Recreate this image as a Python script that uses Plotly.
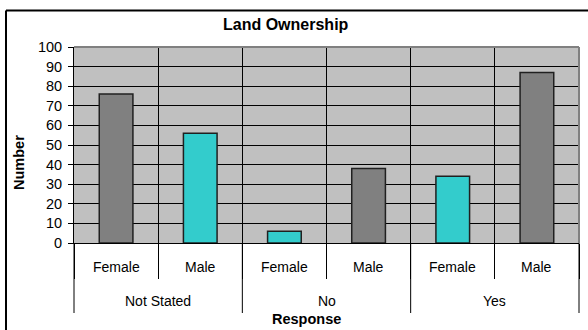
import plotly.graph_objects as go

# Land ownership responses, split by sex
groups = ["Not Stated", "No", "Yes"]
sexes = ["Female", "Male"]
counts = [76, 56, 6, 38, 34, 87]          # in group order, Female then Male
y_ticks = list(range(0, 101, 10))

bar_colors = ["#808080", "#33CCCC", "#33CCCC", "#808080", "#33CCCC", "#808080"]

keys = [f"{g} {s}" for g in groups for s in sexes]
sex_labels = [s for g in groups for s in sexes]

W, H = 588, 330
L, R, T, B = 74, 9, 47, 87
PW, PH = W - L - R, H - T - B


def px_x(px):
    return (px - L) / PW


def px_y(py):
    return (H - B - py) / PH


FONT = "Liberation Sans, Arial, sans-serif"

fig = go.Figure(
    go.Bar(
        x=keys,
        y=counts,
        marker=dict(color=bar_colors, line=dict(color="#202020", width=1.5)),
        width=0.4,
        hoverinfo="y",
    )
)

shapes = []
# group dividers below the category axis
n = len(keys)
for k in range(0, n + 1, len(sexes)):
    shapes.append(dict(type="line", xref="paper", yref="paper", layer="above",
                       x0=k / n, x1=k / n, y0=0, y1=px_y(313),
                       line=dict(color="black", width=1)))
# plot-area frame (top and right edges)
shapes.append(dict(type="line", xref="paper", yref="paper", x0=0, x1=1, y0=1, y1=1,
                   line=dict(color="#808080", width=2)))
shapes.append(dict(type="line", xref="paper", yref="paper", x0=1, x1=1, y0=0, y1=1,
                   line=dict(color="#808080", width=2)))
# chart-area border
shapes.append(dict(type="line", xref="paper", yref="paper",
                   x0=px_x(6), x1=px_x(600), y0=px_y(10.5), y1=px_y(10.5),
                   line=dict(color="black", width=2)))
shapes.append(dict(type="line", xref="paper", yref="paper",
                   x0=px_x(6), x1=px_x(6), y0=px_y(10.5), y1=px_y(340),
                   line=dict(color="black", width=2)))

annotations = []
for key, lab in zip(keys, sex_labels):
    annotations.append(dict(x=key, xref="x", y=px_y(267), yref="paper",
                            text=lab, showarrow=False,
                            xanchor="center", yanchor="middle",
                            font=dict(family=FONT, size=14, color="black")))
for gi, g in enumerate(groups):
    annotations.append(dict(x=(2 * gi + 1) / n, xref="paper", y=px_y(301), yref="paper",
                            text=g, showarrow=False,
                            xanchor="center", yanchor="middle",
                            font=dict(family=FONT, size=14, color="black")))
annotations.append(dict(x=px_x(286), xref="paper", y=px_y(25), yref="paper",
                        text="Land Ownership", showarrow=False,
                        xanchor="center", yanchor="middle",
                        font=dict(family=FONT, size=16, color="black", weight="bold")))
annotations.append(dict(x=px_x(306.5), xref="paper", y=px_y(319), yref="paper",
                        text="Response", showarrow=False,
                        xanchor="center", yanchor="middle",
                        font=dict(family=FONT, size=14.5, color="black", weight="bold")))
annotations.append(dict(x=px_x(19), xref="paper", y=px_y(163), yref="paper",
                        text="Number", showarrow=False, textangle=-90,
                        xanchor="center", yanchor="middle",
                        font=dict(family=FONT, size=14.5, color="black", weight="bold")))

fig.update_layout(
    width=W, height=H,
    margin=dict(l=L, r=R, t=T, b=B, autoexpand=False),
    paper_bgcolor="white",
    plot_bgcolor="#C0C0C0",
    showlegend=False,
    shapes=shapes,
    annotations=annotations,
    xaxis=dict(
        type="category",
        range=[-0.5, n - 0.5],
        tickson="boundaries",
        showgrid=True, gridcolor="black", gridwidth=1,
        ticks="outside", ticklen=35, tickcolor="black", tickwidth=1,
        showticklabels=False,
        showline=True, linecolor="black", linewidth=1,
        fixedrange=True,
    ),
    yaxis=dict(
        range=[0, 100],
        tickvals=y_ticks,
        showgrid=True, gridcolor="black", gridwidth=1,
        ticks="outside", ticklen=5, tickcolor="black", tickwidth=1,
        tickfont=dict(family=FONT, size=14.5, color="black"),
        ticklabelstandoff=3,
        showline=True, linecolor="black", linewidth=1,
        zeroline=False,
        fixedrange=True,
    ),
)

fig.write_html("out.html")
